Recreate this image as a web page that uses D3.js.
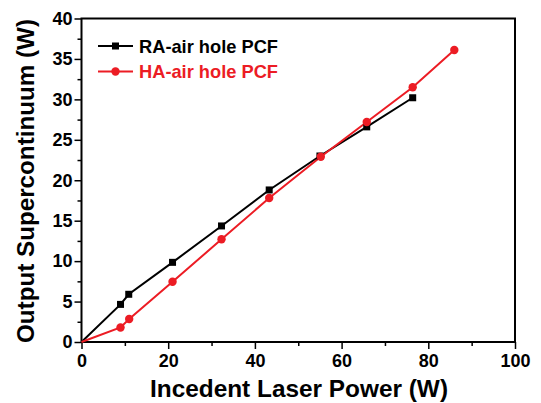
<!DOCTYPE html>
<html><head><meta charset="utf-8">
<script src="https://cdn.jsdelivr.net/npm/d3@7"></script>
<style>body{margin:0;background:#fff}text{font-family:"Liberation Sans",Arial,sans-serif;font-weight:bold}</style>
</head><body>
<svg id="c" width="541" height="403"></svg>
<script>
const raX = [0, 9.0, 10.9, 21.0, 32.3, 43.3, 55.0, 65.8, 76.4];
const raY = [0, 4.65, 5.9, 9.85, 14.35, 18.8, 23.0, 26.6, 30.2];
const haX = [0, 9.0, 11.0, 21.0, 32.3, 43.3, 55.2, 65.8, 76.4, 86.0];
const haY = [0, 1.8, 2.85, 7.45, 12.7, 17.8, 22.9, 27.2, 31.5, 36.1];
const xTicks = [0, 20, 40, 60, 80, 100];
const yTicks = [0, 5, 10, 15, 20, 25, 30, 35, 40];
const seriesNames = ["RA-air hole PCF", "HA-air hole PCF"];
const colors = ["#000000", "#ec1c24"];

const svg = d3.select("#c");
const L = 81.5, R = 515, T = 18.5, B = 342;
const x = d3.scaleLinear().domain([0, 100]).range([L, R]);
const y = d3.scaleLinear().domain([0, 40]).range([B, T]);

// minor ticks
svg.append("g").attr("transform", `translate(0,${B})`)
  .call(d3.axisBottom(x).tickValues(d3.range(10, 100, 20)).tickSize(4).tickFormat(""));
const gxM = svg.append("g").attr("transform", `translate(0,${B})`)
  .call(d3.axisBottom(x).tickValues(xTicks).tickSize(7).tickPadding(3).tickFormat(d3.format("d")));
svg.append("g").attr("transform", `translate(${L},0)`)
  .call(d3.axisLeft(y).tickValues(d3.range(2.5, 40, 5)).tickSize(4).tickFormat(""));
svg.append("g").attr("transform", `translate(${L},0)`)
  .call(d3.axisLeft(y).tickValues(yTicks).tickSize(7).tickPadding(2).tickFormat(d3.format("d")));
svg.selectAll(".domain").remove();
svg.selectAll(".tick line").attr("stroke", "#000").attr("stroke-width", 1.5);
svg.selectAll(".tick text").attr("font-size", 18).attr("fill", "#000")
  .attr("font-family", "Liberation Sans, Arial, sans-serif").attr("font-weight", "bold");
gxM.selectAll(".tick text").attr("dy", "0.85em");

// frame
svg.append("rect").attr("x", L).attr("y", T).attr("width", R - L).attr("height", B - T)
  .attr("fill", "none").attr("stroke", "#000").attr("stroke-width", 2);

const line = d3.line().x(d => x(d[0])).y(d => y(d[1]));
const raData = raX.map((v, i) => [v, raY[i]]);
const haData = haX.map((v, i) => [v, haY[i]]);

svg.append("path").datum(raData).attr("d", line).attr("fill", "none").attr("stroke", colors[0]).attr("stroke-width", 2);
svg.append("path").datum(haData).attr("d", line).attr("fill", "none").attr("stroke", colors[1]).attr("stroke-width", 2);
svg.selectAll(".sq").data(raData.slice(1)).enter().append("rect")
  .attr("x", d => x(d[0]) - 3.5).attr("y", d => y(d[1]) - 3.5).attr("width", 7).attr("height", 7).attr("fill", colors[0]);
svg.selectAll(".ci").data(haData.slice(1)).enter().append("circle")
  .attr("cx", d => x(d[0])).attr("cy", d => y(d[1])).attr("r", 4.2).attr("fill", colors[1]);

// legend
const lg = [[46, 0], [71.5, 1]];
lg.forEach(([ly, i]) => {
  svg.append("line").attr("x1", 98).attr("x2", 133).attr("y1", ly).attr("y2", ly).attr("stroke", colors[i]).attr("stroke-width", 2);
  if (i === 0) svg.append("rect").attr("x", 115.5 - 3.5).attr("y", ly - 3.5).attr("width", 7).attr("height", 7).attr("fill", colors[0]);
  else svg.append("circle").attr("cx", 115.5).attr("cy", ly).attr("r", 4.2).attr("fill", colors[1]);
  svg.append("text").attr("x", 139).attr("y", ly).attr("dy", "0.36em").attr("font-size", 19)
    .attr("textLength", 139).attr("lengthAdjust", "spacingAndGlyphs")
    .attr("fill", colors[i]).text(seriesNames[i]);
});

// axis titles
svg.append("text").attr("x", 299).attr("y", 397).attr("text-anchor", "middle")
  .attr("font-size", 24).attr("textLength", 298).attr("lengthAdjust", "spacingAndGlyphs")
  .attr("fill", "#000").text("Incedent Laser Power (W)");
svg.append("text").attr("transform", `translate(34,181) rotate(-90)`).attr("text-anchor", "middle")
  .attr("font-size", 24).attr("textLength", 324).attr("lengthAdjust", "spacingAndGlyphs")
  .attr("fill", "#000").text("Output Supercontinuum (W)");
</script>
</body></html>
